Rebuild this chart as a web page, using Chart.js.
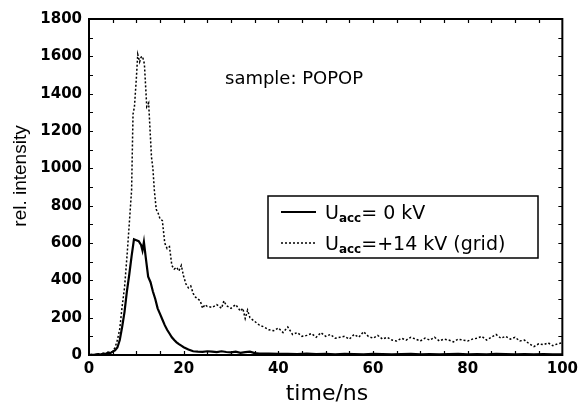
<!DOCTYPE html>
<html>
<head>
<meta charset="utf-8">
<script src="https://cdn.jsdelivr.net/npm/chart.js@4"></script>
<style>
html,body{margin:0;padding:0;background:#fff;}
#wrap{width:583px;height:405px;}
</style>
</head>
<body>
<div id="wrap"><canvas id="c" width="583" height="405"></canvas></div>
<script>
// ---- data ----
const xTickLabels = ['0','20','40','60','80','100'];
const yTickLabels = ['0','200','400','600','800','1000','1200','1400','1600','1800'];

const tSolid = [0,0.5,1,1.5,2,2.5,3,3.5,4,4.5,5,5.5,6,6.5,7,7.5,8,8.5,9,9.5,10,10.5,11,11.3,11.6,12,12.5,13,13.5,14,14.5,15,15.5,16,16.5,17,17.5,18,18.5,19,19.5,20,21,22,23,24,25,26,27,28,29,30,31,32,33,34,35,36,38,40,42,44,46,48,50,52,54,56,58,60,62,64,66,68,70,72,74,76,78,80,82,84,86,88,90,92,94,96,98,100];
const vSolid = [0,2,0,3,5,2,8,5,12,10,18,25,40,80,150,230,340,430,530,620,615,610,590,560,605,520,420,390,340,300,250,220,190,160,135,115,95,80,68,58,50,42,30,20,18,17,20,18,15,20,16,14,18,12,15,18,10,8,7,6,6,5,7,5,6,4,6,5,4,6,5,4,5,6,4,5,4,5,6,4,5,4,6,5,4,5,3,5,4,3];

const tGrid = [0,0.5,1,1.5,2,2.5,3,3.5,4,4.5,5,5.5,6,6.5,7,7.5,8,8.5,9,9.3,9.6,10,10.3,10.7,11,11.3,11.7,12.2,12.6,13.2,13.5,13.8,14.2,14.6,15,15.5,16,16.5,17,17.5,18,18.5,19,19.5,20,20.5,21,21.5,22,22.5,23,23.5,24,24.5,25,26,27,28,28.5,29,30,31,32,32.5,33,33.5,34,35,36,37,38,39,40,41,42,43,44,45,46,47,48,49,50,51,52,53,54,55,56,57,58,59,60,61,62,63,64,65,66,67,68,69,70,71,72,73,74,75,76,77,78,79,80,81,82,83,84,85,86,87,88,89,90,91,92,93,94,95,96,97,98,99,100];
const vGrid = [0,0,3,0,5,3,10,6,15,12,20,40,80,140,260,360,520,700,884,1290,1330,1480,1610,1570,1595,1600,1560,1330,1350,1060,1000,884,780,760,730,720,600,570,580,480,460,470,450,480,420,380,360,370,330,310,300,290,250,270,260,255,270,250,290,265,250,270,235,250,195,240,200,180,160,150,135,130,145,120,150,110,120,100,105,115,95,120,100,110,90,95,100,85,110,95,125,100,90,105,85,95,80,75,90,80,95,85,75,90,80,95,75,85,80,70,85,80,75,85,90,100,80,95,110,90,100,85,95,75,80,60,45,60,55,65,50,60,65];

const toPts = (ts, vs) => ts.map((t, i) => ({x: t, y: vs[i]}));

const FONT = '"DejaVu Sans", sans-serif';

const decor = {
  id: 'decor',
  afterDraw(chart) {
    const ctx = chart.ctx;
    const a = chart.chartArea;
    const xs = chart.scales.x, ys = chart.scales.y;
    ctx.save();
    ctx.strokeStyle = '#000';
    ctx.fillStyle = '#000';
    // frame
    ctx.lineWidth = 2;
    ctx.strokeRect(a.left, a.top, a.right - a.left, a.bottom - a.top);
    // inward ticks
    ctx.lineWidth = 1.2;
    ctx.beginPath();
    for (let v = 100; v < 1800; v += 100) {
      const p = Math.round(ys.getPixelForValue(v)) + 0.5;
      ctx.moveTo(a.left, p); ctx.lineTo(a.left + 4, p);
      ctx.moveTo(a.right, p); ctx.lineTo(a.right - 4, p);
    }
    for (let v = 5; v < 100; v += 5) {
      const p = Math.round(xs.getPixelForValue(v)) + 0.5;
      ctx.moveTo(p, a.top); ctx.lineTo(p, a.top + 4);
      ctx.moveTo(p, a.bottom); ctx.lineTo(p, a.bottom - 4);
    }
    ctx.stroke();

    // annotation
    ctx.font = '18px ' + FONT;
    ctx.textAlign = 'left';
    ctx.textBaseline = 'alphabetic';
    ctx.fillText('sample: POPOP', 225, 84);

    // axis titles
    ctx.font = '22px ' + FONT;
    ctx.textAlign = 'center';
    ctx.fillText('time/ns', 327, 400);
    ctx.save();
    ctx.translate(21, 176);
    ctx.rotate(-Math.PI / 2);
    ctx.font = '19px "Liberation Sans", Arial, sans-serif';
    ctx.textBaseline = 'middle';
    ctx.fillText('rel. intensity', 0, 0);
    ctx.restore();

    // legend box
    ctx.lineWidth = 1.5;
    ctx.strokeRect(268, 196, 538 - 268, 258 - 196);
    const rows = [
      {y: 212, dash: [], w: 2, rest: '= 0 kV'},
      {y: 243, dash: [2, 2], w: 1.5, rest: '=+14 kV (grid)'}
    ];
    rows.forEach(r => {
      ctx.setLineDash(r.dash);
      ctx.lineWidth = r.w;
      ctx.beginPath();
      ctx.moveTo(281, r.y); ctx.lineTo(316, r.y);
      ctx.stroke();
      ctx.setLineDash([]);
      ctx.textAlign = 'left';
      ctx.textBaseline = 'alphabetic';
      let x = 325;
      const base = r.y + 7;
      ctx.font = '19px ' + FONT;
      ctx.fillText('U', x, base);
      x += ctx.measureText('U').width;
      ctx.font = 'bold 12px ' + FONT;
      ctx.fillText('acc', x, base + 3);
      x += ctx.measureText('acc').width;
      ctx.font = '19px ' + FONT;
      ctx.fillText(r.rest, x, base);
    });
    ctx.restore();
  }
};

new Chart(document.getElementById('c'), {
  type: 'line',
  data: {
    datasets: [
      {
        label: 'Uacc= 0 kV',
        data: toPts(tSolid, vSolid),
        borderColor: '#000',
        borderWidth: 2.2,
        pointRadius: 0,
        tension: 0,
        fill: false
      },
      {
        label: 'Uacc=+14 kV (grid)',
        data: toPts(tGrid, vGrid),
        borderColor: '#000',
        borderWidth: 1.5,
        borderDash: [2, 2],
        pointRadius: 0,
        tension: 0,
        fill: false
      }
    ]
  },
  options: {
    responsive: false,
    animation: false,
    events: [],
    layout: {padding: {left: 0, top: 19, right: 17, bottom: 0}},
    plugins: {legend: {display: false}, tooltip: {enabled: false}, title: {display: false}},
    scales: {
      x: {
        type: 'linear', min: 0, max: 100,
        grid: {display: false, drawTicks: false},
        border: {display: false},
        afterFit(s) { s.height = 50; },
        afterBuildTicks(s) { s.ticks = xTickLabels.map(v => ({value: Number(v)})); },
        ticks: {
          color: '#000', padding: 5, maxRotation: 0, autoSkip: false,
          font: {family: 'DejaVu Sans', size: 15, weight: 'bold'},
          callback: (v) => xTickLabels.find(l => Number(l) === v) ?? ''
        }
      },
      y: {
        type: 'linear', min: 0, max: 1800,
        grid: {display: false, drawTicks: false},
        border: {display: false},
        afterFit(s) { s.width = 89; },
        afterBuildTicks(s) { s.ticks = yTickLabels.map(v => ({value: Number(v)})); },
        ticks: {
          color: '#000', padding: 7, autoSkip: false,
          font: {family: 'DejaVu Sans', size: 15, weight: 'bold'},
          callback: (v) => yTickLabels.find(l => Number(l) === v) ?? ''
        }
      }
    }
  },
  plugins: [decor]
});
</script>
</body>
</html>
